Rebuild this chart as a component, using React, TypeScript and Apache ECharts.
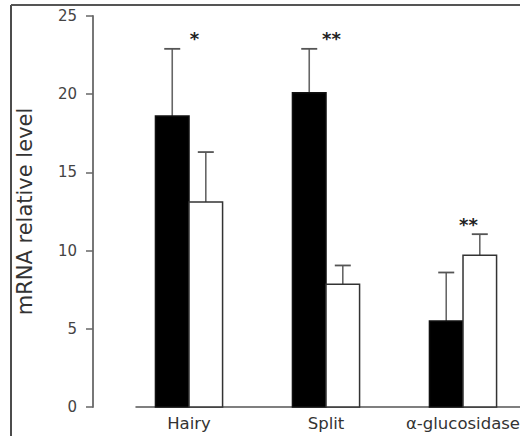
import React, { useEffect, useRef } from "react";
import * as echarts from "echarts";

const categories = ["Hairy", "Split", "α-glucosidase"];
const controlMeans = [18.6, 20.1, 5.5];
const controlErrors = [4.3, 2.8, 3.1];
const treatedMeans = [13.1, 7.85, 9.7];
const treatedErrors = [3.2, 1.2, 1.35];
const significance = ["*", "**", "**"];
const yTicks = { min: 0, max: 25, interval: 5 };

const BAR_W = 0.245; // in category units

export default function App() {
  const ref = useRef<HTMLDivElement>(null);
  useEffect(() => {
    if (!ref.current) return;
    const chart = echarts.init(ref.current, null, { renderer: "svg" });
    const font = "DejaVu Sans, sans-serif";

    const makeBars = (side: number, fill: string, stroke: string) =>
      function (params: any, api: any) {
        const x = api.value(0);
        const y = api.value(1);
        const e = api.value(2);
        const x0 = side < 0 ? x - BAR_W : x;
        const x1 = side < 0 ? x : x + BAR_W;
        const pA = api.coord([x0, 0]);
        const pB = api.coord([x1, y]);
        const xc = (x0 + x1) / 2;
        const pTop = api.coord([xc, y + e]);
        const pMid = api.coord([xc, y]);
        const capHalf = 8;
        return {
          type: "group",
          children: [
            {
              type: "line",
              shape: { x1: pMid[0], y1: pMid[1], x2: pTop[0], y2: pTop[1] },
              style: { stroke: "#666", lineWidth: 1.6 },
            },
            {
              type: "line",
              shape: { x1: pTop[0] - capHalf, y1: pTop[1], x2: pTop[0] + capHalf, y2: pTop[1] },
              style: { stroke: "#555", lineWidth: 1.8 },
            },
            {
              type: "rect",
              shape: { x: pA[0], y: pB[1], width: pB[0] - pA[0], height: pA[1] - pB[1] },
              style: { fill, stroke, lineWidth: 1.5 },
            },
          ],
        };
      };

    const controlData = categories.map((_, i) => [i, controlMeans[i], controlErrors[i]]);
    const treatedData = categories.map((_, i) => [i, treatedMeans[i], treatedErrors[i]]);
    const labelData = categories.map((_, i) => [
      i,
      Math.max(controlMeans[i] + controlErrors[i], treatedMeans[i] + treatedErrors[i]),
    ]);

    chart.setOption({
      animation: false,
      backgroundColor: "#fff",
      grid: { left: 136, right: 0, top: 16, bottom: 29 },
      xAxis: {
        type: "value",
        min: -0.387,
        max: 2.416,
        axisLine: { show: true, onZero: false, lineStyle: { color: "#555", width: 1.5 } },
        axisTick: { show: false },
        axisLabel: { show: false },
        splitLine: { show: false },
      },
      yAxis: {
        type: "value",
        min: yTicks.min,
        max: yTicks.max,
        interval: yTicks.interval,
        offset: 43,
        axisLine: { show: true, onZero: false, lineStyle: { color: "#777", width: 2 } },
        axisTick: { show: true, length: 7, lineStyle: { color: "#666", width: 1.5 } },
        axisLabel: { margin: 16, fontSize: 15, color: "#444", fontFamily: font },
        splitLine: { show: false },
        name: "mRNA relative level",
        nameLocation: "middle",
        nameGap: 58,
        nameTextStyle: { fontSize: 21, color: "#333", fontFamily: font },
      },
      graphic: [
        {
          type: "line",
          shape: { x1: 11, y1: 5, x2: 11, y2: 436 },
          style: { stroke: "#111", lineWidth: 1.5 },
        },
        {
          type: "line",
          shape: { x1: 11, y1: 5, x2: 520, y2: 5 },
          style: { stroke: "#555", lineWidth: 2 },
        },
      ],
      series: [
        {
          type: "custom",
          name: "control",
          clip: false,
          renderItem: makeBars(-1, "#000", "#111"),
          data: controlData,
        },
        {
          type: "custom",
          name: "treated",
          clip: false,
          renderItem: makeBars(1, "#fff", "#333"),
          data: treatedData,
        },
        {
          type: "custom",
          name: "labels",
          clip: false,
          renderItem: function (params: any, api: any) {
            const i = params.dataIndex;
            const base = api.coord([api.value(0), 0]);
            const top = api.coord([api.value(0) + 0.04, api.value(1)]);
            return {
              type: "group",
              children: [
                {
                  type: "text",
                  style: {
                    text: categories[i],
                    x: base[0],
                    y: base[1] + 8,
                    align: "center",
                    verticalAlign: "top",
                    fontSize: 16.5,
                    fill: "#333",
                    fontFamily: font,
                  },
                },
                {
                  type: "text",
                  style: {
                    text: significance[i],
                    x: top[0],
                    y: top[1] - 10,
                    align: "center",
                    verticalAlign: "middle",
                    fontSize: 18,
                    fontWeight: "bold",
                    fill: "#222",
                    fontFamily: font,
                  },
                },
              ],
            };
          },
          data: labelData,
        },
      ],
    });
    return () => chart.dispose();
  }, []);
  return (
    <div
      ref={ref}
      style={{ position: "absolute", left: 0, top: 0, width: 520, height: 436 }}
    />
  );
}
